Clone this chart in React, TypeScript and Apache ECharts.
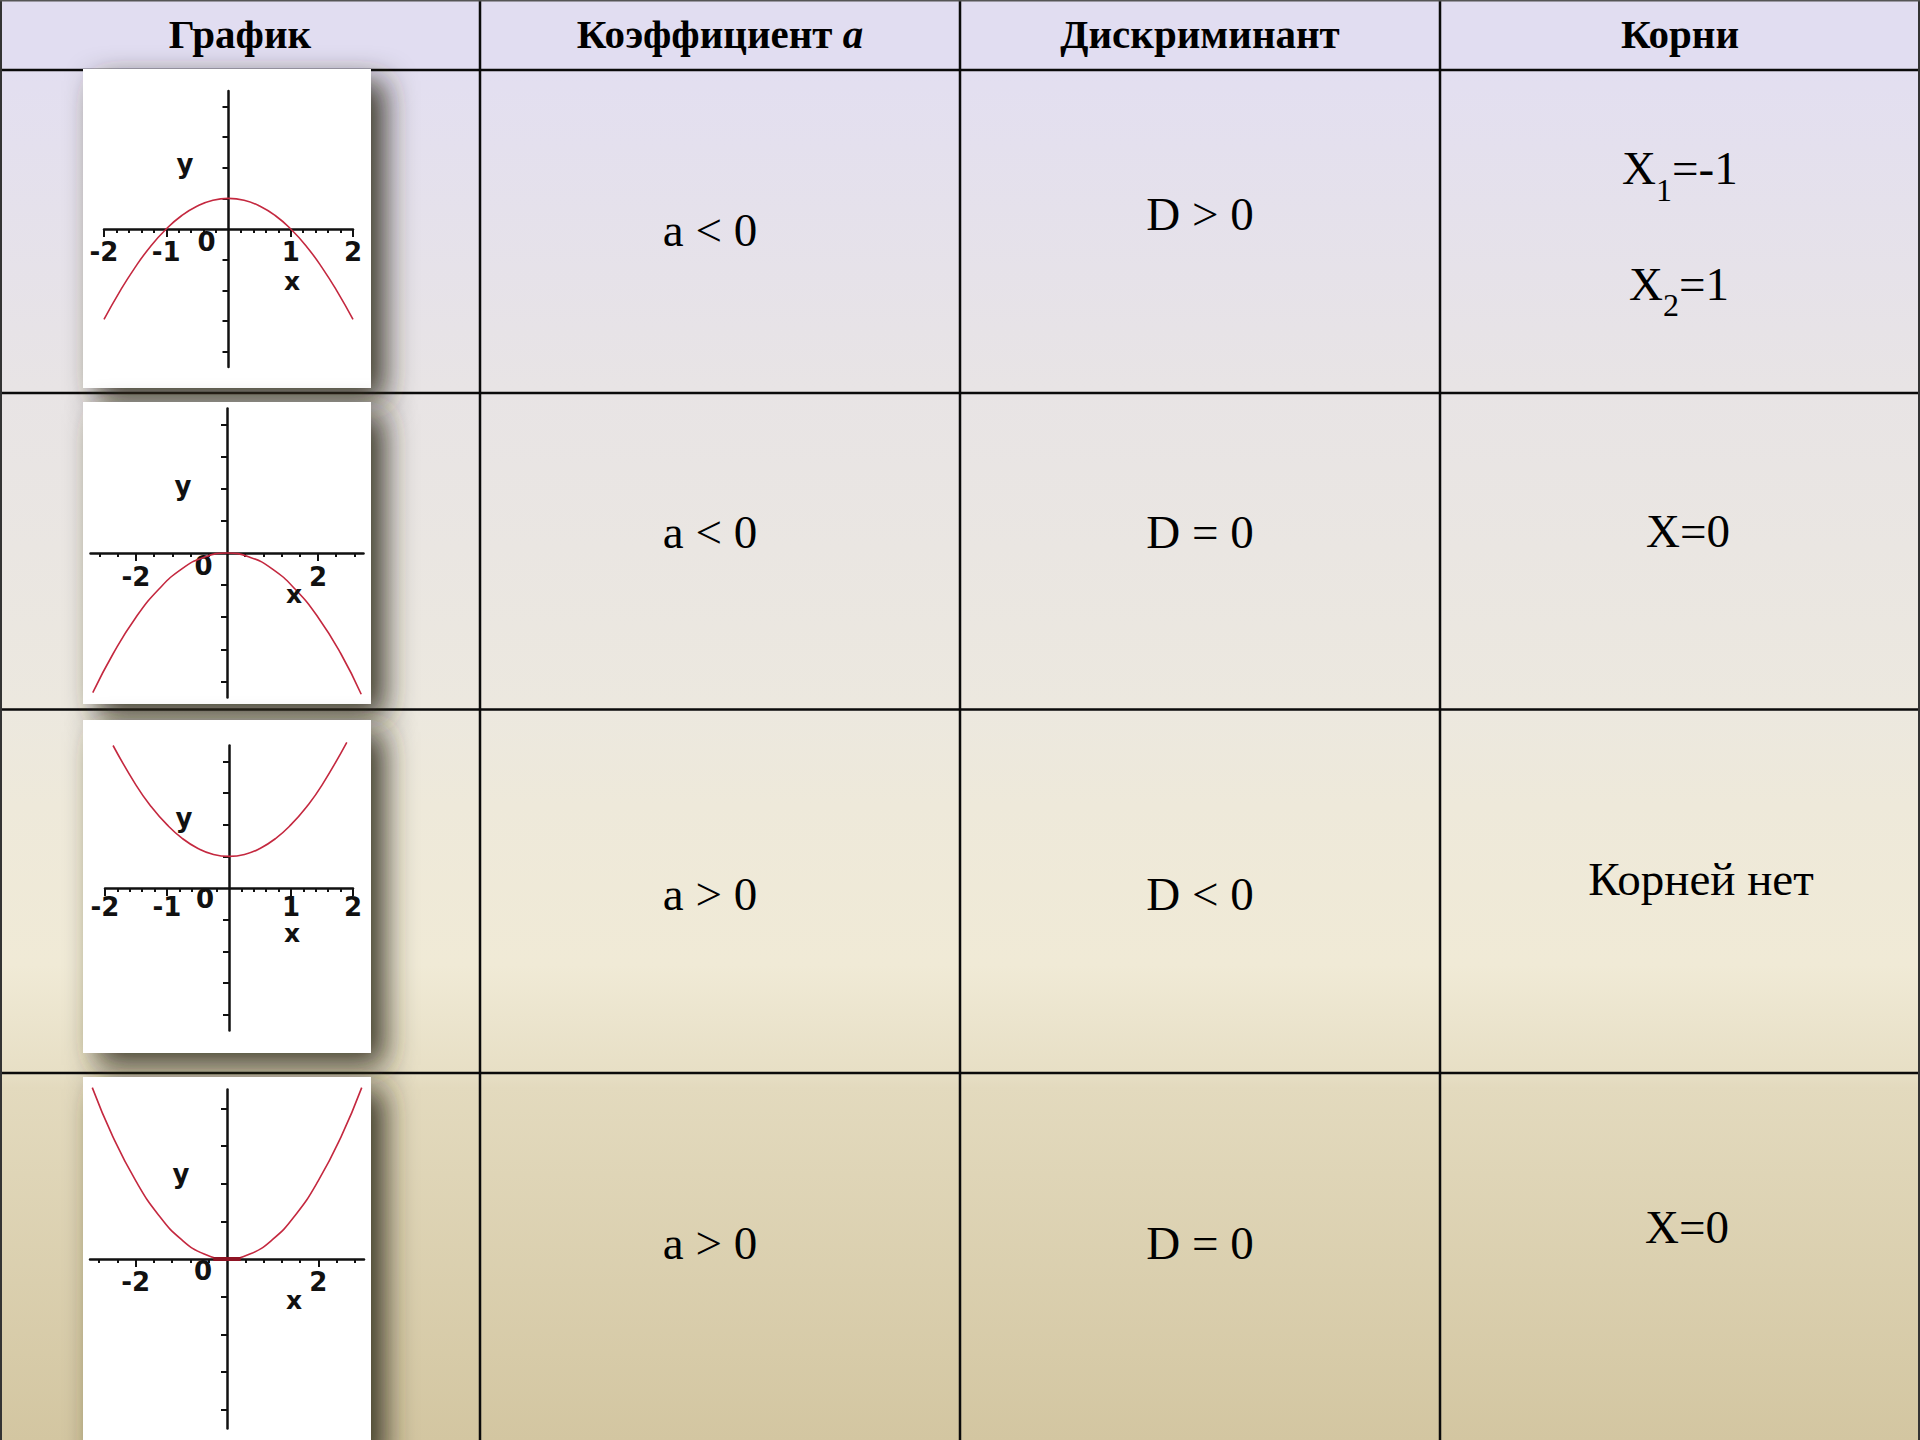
import React, { useEffect, useRef } from 'react';
import * as echarts from 'echarts';

// ---------- table texts ----------
const headerTexts = ['График', 'Коэффициент ', 'Дискриминант', 'Корни'];
const headerItalic = 'a';
const coefficientTexts = ['a < 0', 'a < 0', 'a > 0', 'a > 0'];
const discriminantTexts = ['D > 0', 'D = 0', 'D < 0', 'D = 0'];
const rootsRow1Main = ['X', '=-1', 'X', '=1'];
const rootsRow1Sub = ['1', '2'];
const rootTexts = ['X=0', 'Корней нет', 'X=0'];

// ---------- mini-plot tick values ----------
const majorTicksA = [-2, -1, 1, 2];
const minorTicksA = [-1.8, -1.6, -1.4, -1.2, -0.8, -0.6, -0.4, -0.2, 0.2, 0.4, 0.6, 0.8, 1.2, 1.4, 1.6, 1.8];
const tickLabelsA = [-2, -1, 0, 1, 2];
const majorTicksB = [-2, 2];
const minorTicksB = [-2.8, -2.4, -1.6, -1.2, -0.8, -0.4, 0.4, 0.8, 1.2, 1.6, 2.4, 2.8];
const tickLabelsB = [-2, 0, 2];
const yTicks = [-4, -3, -2, -1, 1, 2, 3, 4];
const axisNames = ['x', 'y'];

// ---------- parabola points ----------
const xs1 = [-2, -1.75, -1.5, -1.25, -1, -0.75, -0.5, -0.25, 0, 0.25, 0.5, 0.75, 1, 1.25, 1.5, 1.75, 2];
const ys1 = [-2.95, -2.05, -1.25, -0.56, 0, 0.44, 0.75, 0.94, 1, 0.94, 0.75, 0.44, 0, -0.56, -1.25, -2.05, -2.95];

const xs2 = [-2.95, -2.5, -2, -1.5, -1, -0.5, 0, 0.5, 1, 1.5, 2, 2.5, 2.95];
const ys2 = [-4.35, -3.13, -2, -1.13, -0.5, -0.13, 0, -0.13, -0.5, -1.13, -2, -3.13, -4.4];

const xs3 = [-1.87, -1.5, -1.25, -1, -0.75, -0.5, -0.25, 0, 0.25, 0.5, 0.75, 1, 1.25, 1.5, 1.9];
const ys3 = [4.5, 3.25, 2.56, 2, 1.56, 1.25, 1.06, 1, 1.06, 1.25, 1.56, 2, 2.56, 3.25, 4.6];

const xs4 = [-2.95, -2.5, -2, -1.5, -1, -0.5, 0, 0.5, 1, 1.5, 2, 2.5, 2.95];
const ys4 = [4.55, 3.25, 2.08, 1.17, 0.52, 0.13, 0, 0.13, 0.52, 1.17, 2.08, 3.25, 4.55];

const vertexXs4 = [-0.3, 0.3];
const vertexYs4 = [0, 0];

const Y_MIN = -4.5;
const Y_MAX = 4.5;

const W = 1920;
const H = 1440;

const SERIF = '"Liberation Serif", "Times New Roman", serif';
const PLOTFONT = '"DejaVu Sans", sans-serif';

const panels = [
  { grid: { left: 104, top: 91, width: 249, height: 276 }, xMin: -2, xMax: 2, major: majorTicksA, minor: minorTicksA, labels: tickLabelsA, zeroShift: 44, margin: 0, pad: 10, xs: xs1, ys: ys1, img: { y: 69, h: 319 }, yName: [185, 164], xName: [292, 281] },
  { grid: { left: 90.5, top: 408.5, width: 273, height: 289 }, xMin: -3, xMax: 3, major: majorTicksB, minor: minorTicksB, labels: tickLabelsB, zeroShift: 47, margin: 0, pad: 11, xs: xs2, ys: ys2, img: { y: 402, h: 302 }, yName: [183, 486], xName: [294, 594] },
  { grid: { left: 105, top: 745.5, width: 248, height: 285 }, xMin: -2, xMax: 2, major: majorTicksA, minor: minorTicksA, labels: tickLabelsA, zeroShift: 48, margin: -2, pad: 8, xs: xs3, ys: ys3, img: { y: 720, h: 333 }, yName: [184, 818], xName: [292, 933] },
  { grid: { left: 90, top: 1089.5, width: 274, height: 339 }, xMin: -3, xMax: 3, major: majorTicksB, minor: minorTicksB, labels: tickLabelsB, zeroShift: 48, margin: -1, pad: 11, xs: xs4, ys: ys4, img: { y: 1077, h: 380 }, yName: [181, 1174], xName: [294, 1300] },
];

function buildOption() {
  const axisColor = '#111';
  const grid: any[] = [];
  const xAxis: any[] = [];
  const yAxis: any[] = [];
  const series: any[] = [];
  const graphic: any[] = [];

  // background
  graphic.push({
    type: 'rect', z: 0, silent: true,
    shape: { x: 0, y: 0, width: W, height: H },
    style: {
      fill: {
        type: 'linear', x: 0, y: 0, x2: 0, y2: 1,
        colorStops: [
          { offset: 0, color: '#e2def2' },
          { offset: 0.06, color: '#e3dff0' },
          { offset: 0.27, color: '#e8e4e5' },
          { offset: 0.49, color: '#ece8df' },
          { offset: 0.56, color: '#eee9da' },
          { offset: 0.67, color: '#f0ead6' },
          { offset: 0.745, color: '#e7dfc5' },
          { offset: 0.755, color: '#e3dabe' },
          { offset: 1, color: '#d3c6a1' },
        ],
      },
    },
  });
  graphic.push({
    type: 'rect', z: 1, silent: true,
    shape: { x: 0, y: 0, width: W, height: 70 },
    style: { fill: '#e1ddf1' },
  });

  // table lines
  const hLines = [70, 393, 709.5, 1073];
  const vLines = [480, 960, 1440];
  hLines.forEach((y) => graphic.push({ type: 'line', z: 2, silent: true, shape: { x1: 0, y1: y, x2: W, y2: y }, style: { stroke: '#0a0a0a', lineWidth: 2.5 } }));
  vLines.forEach((x) => graphic.push({ type: 'line', z: 2, silent: true, shape: { x1: x, y1: 0, x2: x, y2: H }, style: { stroke: '#0a0a0a', lineWidth: 2.5 } }));
  graphic.push({ type: 'line', z: 2, silent: true, shape: { x1: 1, y1: 0, x2: 1, y2: H }, style: { stroke: '#333', lineWidth: 2 } });
  graphic.push({ type: 'line', z: 2, silent: true, shape: { x1: W - 1, y1: 0, x2: W - 1, y2: H }, style: { stroke: '#333', lineWidth: 2 } });
  graphic.push({ type: 'line', z: 2, silent: true, shape: { x1: 0, y1: 0.75, x2: W, y2: 0.75 }, style: { stroke: '#555', lineWidth: 1.5 } });

  panels.forEach((p, i) => {
    // picture card with shadow
    graphic.push({
      type: 'rect', z: 3, silent: true,
      shape: { x: 83, y: p.img.y, width: 288, height: p.img.h },
      style: { fill: '#ffffff', shadowBlur: 30, shadowOffsetX: 14, shadowOffsetY: 12, shadowColor: 'rgba(50,45,30,0.92)' },
    });

    grid.push({ ...p.grid, containLabel: false, outerBoundsMode: 'none', show: false });

    // x axis sits on y = 0: move it up from the grid bottom by the share of the range below zero
    const zeroOffset = -p.grid.height * (0 - Y_MIN) / (Y_MAX - Y_MIN);

    const labelFont = { fontFamily: PLOTFONT, fontWeight: 'bold', fontSize: 26, color: axisColor };
    xAxis.push({
      type: 'value', gridIndex: i, min: p.xMin, max: p.xMax, position: 'bottom', offset: zeroOffset, z: 20,
      axisLine: { show: true, onZero: false, lineStyle: { color: axisColor, width: 2.5 } },
      axisTick: { show: true, customValues: p.major, length: 8, lineStyle: { color: axisColor, width: 2 } },
      axisLabel: {
        show: true, customValues: p.labels, margin: p.margin, ...labelFont,
        formatter: (v: number) => (v === 0 ? '{z|0}' : '{n|' + String(v) + '}'),
        rich: {
          n: { ...labelFont, padding: [p.pad, 0, 0, 0] },
          z: { ...labelFont, padding: [0, p.zeroShift, 0, 0] },
        },
      },
      splitLine: { show: false },
      minorTick: { show: false },
    });
    xAxis.push({
      type: 'value', gridIndex: i, min: p.xMin, max: p.xMax, position: 'bottom', offset: zeroOffset, z: 20,
      axisLine: { show: false, onZero: false },
      axisTick: { show: true, customValues: p.minor, length: 4, lineStyle: { color: axisColor, width: 2 } },
      axisLabel: { show: false },
      splitLine: { show: false },
    });
    yAxis.push({
      type: 'value', gridIndex: i, min: Y_MIN, max: Y_MAX, position: 'left', z: 20,
      axisLine: { show: true, onZero: true, onZeroAxisIndex: 2 * i, lineStyle: { color: axisColor, width: 2.5 } },
      axisTick: { show: true, customValues: yTicks, length: 6, lineStyle: { color: axisColor, width: 2 } },
      axisLabel: { show: false },
      splitLine: { show: false },
    });

    series.push({
      type: 'line', xAxisIndex: 2 * i, yAxisIndex: i, z: 30, silent: true,
      data: p.xs.map((x, k) => [x, p.ys[k]]),
      smooth: true, showSymbol: false, symbol: 'none', clip: false,
      lineStyle: { color: '#c4283f', width: 1.6 },
    });

    // axis letters
    graphic.push({ type: 'text', z: 50, silent: true, x: p.xName[0], y: p.xName[1], style: { text: axisNames[0], fontFamily: PLOTFONT, fontWeight: 'bold', fontSize: 25, fill: axisColor, align: 'center', verticalAlign: 'middle' } });
    graphic.push({ type: 'text', z: 50, silent: true, x: p.yName[0], y: p.yName[1], style: { text: axisNames[1], fontFamily: PLOTFONT, fontWeight: 'bold', fontSize: 26, fill: axisColor, align: 'center', verticalAlign: 'middle' } });
  });

  series.push({
    type: 'line', xAxisIndex: 6, yAxisIndex: 3, z: 31, silent: true,
    data: vertexXs4.map((x, k) => [x, vertexYs4[k]]),
    showSymbol: false, symbol: 'none', clip: false,
    lineStyle: { color: '#8e1424', width: 4 },
  });

  // header texts
  const headerX = [240, 720, 1200, 1680];
  const headerY = 34;
  const hStyle = { fontFamily: SERIF, fontWeight: 'bold', fontSize: 41, fill: '#000' };
  graphic.push({ type: 'text', z: 50, silent: true, x: headerX[0], y: headerY, style: { text: headerTexts[0], ...hStyle, align: 'center', verticalAlign: 'middle' } });
  graphic.push({
    type: 'text', z: 50, silent: true, x: headerX[1], y: headerY,
    style: {
      text: '{b|' + headerTexts[1] + '}{i|' + headerItalic + '}',
      ...hStyle, align: 'center', verticalAlign: 'middle',
      rich: {
        b: { fontFamily: SERIF, fontWeight: 'bold', fontSize: 41, fill: '#000', color: '#000' },
        i: { fontFamily: SERIF, fontWeight: 'bold', fontStyle: 'italic', fontSize: 41, fill: '#000', color: '#000' },
      },
    },
  });
  graphic.push({ type: 'text', z: 50, silent: true, x: headerX[2], y: headerY, style: { text: headerTexts[2], ...hStyle, align: 'center', verticalAlign: 'middle' } });
  graphic.push({ type: 'text', z: 50, silent: true, x: headerX[3], y: headerY, style: { text: headerTexts[3], ...hStyle, align: 'center', verticalAlign: 'middle' } });

  // body texts
  const bStyle = { fontFamily: SERIF, fontSize: 47, fill: '#000' };
  const coefY = [230, 532, 894, 1243];
  const discY = [214, 532, 894, 1243];
  coefficientTexts.forEach((t, i) => graphic.push({ type: 'text', z: 50, silent: true, x: 710, y: coefY[i], style: { text: t, ...bStyle, align: 'center', verticalAlign: 'middle' } }));
  discriminantTexts.forEach((t, i) => graphic.push({ type: 'text', z: 50, silent: true, x: 1200, y: discY[i], style: { text: t, ...bStyle, align: 'center', verticalAlign: 'middle' } }));

  // roots row 1 with subscripts
  const subStyle = { fontFamily: SERIF, fontSize: 32, fill: '#000' };
  graphic.push({ type: 'text', z: 50, silent: true, x: 1622, y: 168, style: { text: rootsRow1Main[0], ...bStyle, align: 'left', verticalAlign: 'middle' } });
  graphic.push({ type: 'text', z: 50, silent: true, x: 1656, y: 190, style: { text: rootsRow1Sub[0], ...subStyle, align: 'left', verticalAlign: 'middle' } });
  graphic.push({ type: 'text', z: 50, silent: true, x: 1672, y: 168, style: { text: rootsRow1Main[1], ...bStyle, align: 'left', verticalAlign: 'middle' } });
  graphic.push({ type: 'text', z: 50, silent: true, x: 1629, y: 284, style: { text: rootsRow1Main[2], ...bStyle, align: 'left', verticalAlign: 'middle' } });
  graphic.push({ type: 'text', z: 50, silent: true, x: 1663, y: 305, style: { text: rootsRow1Sub[1], ...subStyle, align: 'left', verticalAlign: 'middle' } });
  graphic.push({ type: 'text', z: 50, silent: true, x: 1679, y: 284, style: { text: rootsRow1Main[3], ...bStyle, align: 'left', verticalAlign: 'middle' } });

  const rootX = [1688, 1701, 1687];
  const rootY = [531, 879, 1227];
  rootTexts.forEach((t, i) => graphic.push({ type: 'text', z: 50, silent: true, x: rootX[i], y: rootY[i], style: { text: t, ...bStyle, align: 'center', verticalAlign: 'middle' } }));

  return {
    animation: false,
    backgroundColor: 'transparent',
    grid,
    xAxis,
    yAxis,
    series,
    graphic: { elements: graphic },
  };
}

export default function App() {
  const ref = useRef<HTMLDivElement>(null);
  useEffect(() => {
    if (!ref.current) return;
    const chart = echarts.init(ref.current, null, { renderer: 'svg', width: W, height: H });
    chart.setOption(buildOption() as any);
    return () => chart.dispose();
  }, []);
  return <div ref={ref} style={{ position: 'absolute', left: 0, top: 0, width: W, height: H }} />;
}
